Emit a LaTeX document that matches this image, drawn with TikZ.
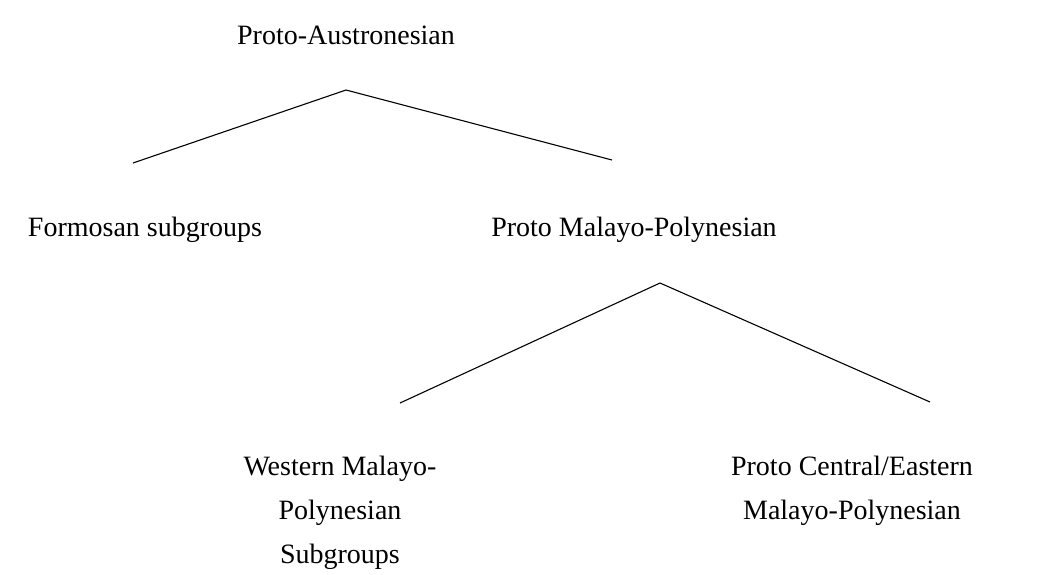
\documentclass[tikz,border=0pt]{standalone}
\usepackage{fontspec}
\setmainfont{Liberation Serif}
\begin{document}
\begin{tikzpicture}[x=1pt,y=-1pt,
  lbl/.style={font=\fontsize{28}{44}\selectfont, inner sep=0pt, align=center},
  br/.style={line width=1.1pt}]
\useasboundingbox (0,0) rectangle (1049,574);
\node[lbl] (pan) at (346,35) {Proto-Austronesian};
\coordinate (t1) at (346,90);
\coordinate (l1) at (133,163);
\coordinate (r1) at (612,160);
\node[lbl] (form) at (145,230) {Formosan subgroups};
\node[lbl] (pmp) at (634,230) {Proto Malayo-Polynesian};
\coordinate (t2) at (660,283);
\coordinate (l2) at (400,403);
\coordinate (r2) at (930,402);
\node[lbl, anchor=north] (wmp) at (340,456) {Western Malayo-\\Polynesian\\Subgroups};
\node[lbl, anchor=north] (pcemp) at (852,456) {Proto Central/Eastern\\Malayo-Polynesian};
\draw[br] (l1) -- (t1) -- (r1);
\draw[br] (l2) -- (t2) -- (r2);
\end{tikzpicture}
\end{document}
